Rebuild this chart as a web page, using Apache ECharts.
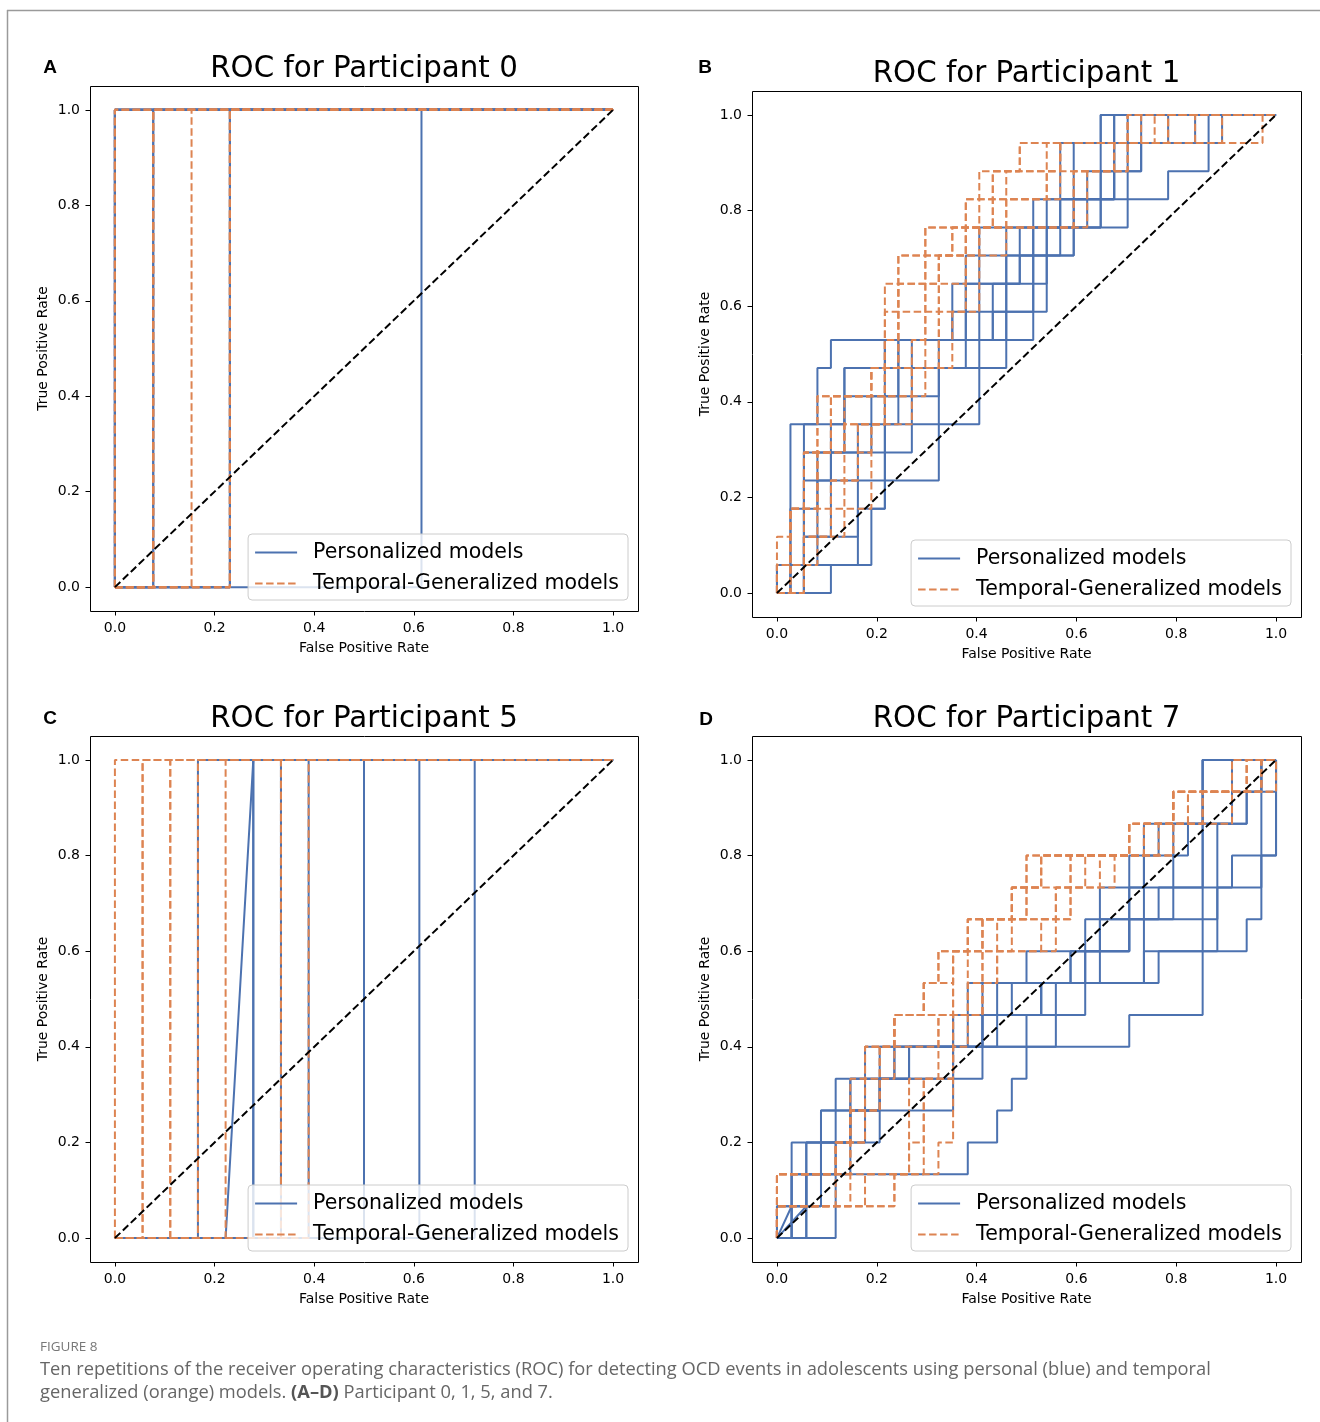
<!DOCTYPE html>
<html><head><meta charset="utf-8">
<script src="https://cdn.jsdelivr.net/npm/echarts@6/dist/echarts.min.js"></script>
<style>html,body{margin:0;padding:0;background:#fff}#c{width:1320px;height:1422px}</style>
</head><body><div id="c"></div>
<script>
// ---------------- text ----------------
const panelTitles = ['ROC for Participant 0', 'ROC for Participant 1', 'ROC for Participant 5', 'ROC for Participant 7'];
const panelLetters = ['A', 'B', 'C', 'D'];
const seriesNames = ['Personalized models', 'Temporal-Generalized models'];
const tickValues = [0, 0.2, 0.4, 0.6, 0.8, 1.0];
const xAxisName = 'False Positive Rate';
const yAxisName = 'True Positive Rate';
const captionHead = 'FIGURE 8';
const captionLine1 = 'Ten repetitions of the receiver operating characteristics (ROC) for detecting OCD events in adolescents using personal (blue) and temporal';
const captionLine2a = 'generalized (orange) models. ';
const captionLine2b = '(A\u2013D)';
const captionLine2c = ' Participant 0, 1, 5, and 7.';

// ---------------- data ----------------
// Each step curve: false-positive counts at which the curve climbs
// from j to j+1 true positives (counts out of nNeg / nPos).
// Panel A (participant 0)
const A_nNeg = 13, A_nPos = 1;
const A_personal = [[0], [0], [0], [0], [0], [1], [1], [3], [3], [8]];
const A_temporal = [[0], [0], [0], [1], [1], [1], [2], [3], [3], [3]];
const A_personalPts = [];
const A_temporalPts = [];

// Panel B (participant 1)
const B_nNeg = 37, B_nPos = 17;
const B_personal = [
  [1,1,1,1,1,1,3,3,4,19,19,19,19,19,24,24,24],
  [4,7,7,8,12,12,15,15,15,15,15,15,22,26,29,32,32],
  [2,2,6,6,8,10,10,10,10,16,16,18,18,22,22,22,25],
  [2,2,2,2,2,5,5,12,12,13,14,20,20,23,25,27,27],
  [1,1,1,2,2,2,5,5,8,17,17,17,17,24,25,25,25],
  [0,2,2,2,4,4,5,5,9,14,14,14,15,21,21,21,24],
  [2,6,6,8,8,8,12,12,17,17,17,17,22,22,26,26,31],
  [1,2,2,3,3,7,7,9,9,13,13,18,21,21,23,27,29],
  [2,2,4,4,4,8,8,8,8,16,19,19,19,24,24,25,26],
  [0,3,3,3,6,6,9,9,14,14,20,20,20,20,25,25,33]
];
const B_temporal = [
  [0,1,1,3,3,3,3,7,8,8,11,11,11,16,16,18,26],
  [2,2,4,4,5,5,8,8,8,9,9,9,14,17,17,20,27],
  [1,3,5,5,6,7,8,11,12,12,12,12,13,14,20,21,28],
  [0,1,1,2,2,5,5,7,8,8,8,11,15,16,16,21,29],
  [2,2,4,7,7,7,10,10,11,11,11,14,14,22,22,25,31],
  [1,1,1,2,2,3,3,8,9,9,9,9,11,15,15,18,26],
  [2,2,3,3,3,4,4,8,12,12,15,15,15,23,23,26,33],
  [0,1,1,4,6,6,8,8,13,13,14,14,14,22,22,26,36],
  [1,2,2,3,3,5,8,10,10,11,12,12,17,17,21,25,29],
  [0,0,1,2,2,4,4,7,9,9,9,12,13,14,20,21,26]
];
const B_personalPts = [];
const B_temporalPts = [];

// Panel C (participant 5)
const C_nNeg = 18, C_nPos = 1;
const C_personal = [[3], [5], [5], [6], [6], [7], [9], [11], [13]];
const C_temporal = [[0], [1], [1], [2], [2], [3], [4], [6], [6], [7]];
const C_personalPts = [[[0,0],[4,0],[5,1],[18,1]]];
const C_temporalPts = [];

// Panel D (participant 7)
const D_nNeg = 34, D_nPos = 15;
const D_personal = [
  [4,4,13,15,16,17,24,29,29,29,29,29,29,29,29],
  [1,2,3,5,7,12,14,18,26,32,33,33,34,34,34],
  [0,1,1,3,5,7,14,14,20,22,22,25,28,32,33],
  [1,2,4,5,7,8,14,18,22,24,24,25,25,29,29],
  [2,3,4,7,12,14,17,19,25,30,30,31,34,34,34],
  [0,1,2,4,5,8,12,16,21,21,26,33,33,33,34],
  [1,1,2,3,4,6,12,13,17,22,30,30,30,32,33],
  [2,2,3,5,7,9,13,18,21,24,24,24,26,31,33]
];
const D_temporal = [
  [0,0,4,5,6,6,8,10,11,13,16,17,24,27,31],
  [0,4,4,5,5,6,8,12,12,14,16,20,25,27,32],
  [0,0,5,5,7,7,11,13,13,15,17,18,26,28,33],
  [0,6,9,9,9,12,12,13,14,14,19,21,25,29,33],
  [0,0,4,6,6,6,8,10,12,13,16,18,24,27,31],
  [0,8,10,10,10,11,11,14,15,18,19,22,27,27,32],
  [0,0,5,5,7,7,8,12,12,13,16,17,24,28,34],
  [0,5,11,12,12,12,13,14,15,19,20,23,27,31,33],
  [0,0,4,6,6,8,8,10,11,14,17,18,24,29,32],
  [0,8,9,10,10,12,12,14,14,16,20,20,25,27,34]
];
const D_personalPts = [
  [[0,0],[1,1],[2,1],[2,2],[5,2],[5,4],[7,4],[7,5],[12,5],[12,6],[19,6],[19,7],[21,7],[21,8],[25,8],[25,11],[29,11],[29,15],[34,15]],
  [[0,0],[2,1],[3,1],[3,3],[6,3],[6,5],[9,5],[9,6],[15,6],[15,8],[20,8],[20,9],[24,9],[24,10],[27,10],[27,13],[31,13],[31,15],[34,15]]
];
const D_temporalPts = [];

const panels = [
  {nNeg: A_nNeg, nPos: A_nPos, personal: A_personal, temporal: A_temporal, personalPts: A_personalPts, temporalPts: A_temporalPts},
  {nNeg: B_nNeg, nPos: B_nPos, personal: B_personal, temporal: B_temporal, personalPts: B_personalPts, temporalPts: B_temporalPts},
  {nNeg: C_nNeg, nPos: C_nPos, personal: C_personal, temporal: C_temporal, personalPts: C_personalPts, temporalPts: C_temporalPts},
  {nNeg: D_nNeg, nPos: D_nPos, personal: D_personal, temporal: D_temporal, personalPts: D_personalPts, temporalPts: D_temporalPts}
];

// ---------------- layout / style ----------------
const W = 1320, H = 1422;
const boxes = [
  {l: 90, t: 86, w: 548, h: 525},
  {l: 752, t: 91, w: 549, h: 526},
  {l: 90, t: 736, w: 548, h: 526},
  {l: 752, t: 736, w: 549, h: 526}
];
const letterPos = [[50, 68], [705, 68], [50, 719], [706, 720]];
const BLUE = '#4C72B0', ORANGE = '#DD8452';
const FONT = 'DejaVu Sans';
const DASH = [7.5, 3.5];

function stepCurve(xs, nNeg, nPos) {
  const pts = [[0, 0]];
  xs.forEach((x, k) => {
    pts.push([x / nNeg, k / nPos]);
    pts.push([x / nNeg, (k + 1) / nPos]);
  });
  pts.push([1, 1]);
  return pts;
}
function scalePts(pts, nNeg, nPos) {
  return pts.map(p => [p[0] / nNeg, p[1] / nPos]);
}

const grid = [], xAxis = [], yAxis = [], series = [], legend = [], graphic = [];

const axisCommon = (p, name, gap) => ({
  type: 'value', gridIndex: p, min: -0.05, max: 1.05,
  axisLine: {show: false, onZero: false}, splitLine: {show: false},
  axisTick: {show: true, length: 4.5, customValues: tickValues, lineStyle: {color: '#000', width: 1}},
  axisLabel: {fontFamily: FONT, fontSize: 14, color: '#000', margin: 10, customValues: tickValues,
    formatter: v => Number(v).toFixed(1)},
  name, nameLocation: 'middle', nameGap: gap,
  nameTextStyle: {fontFamily: FONT, fontSize: 14, color: '#000'}
});

boxes.forEach((b, p) => {
  grid.push({left: b.l, top: b.t, width: b.w, height: b.h, containLabel: false, show: false});
  xAxis.push(axisCommon(p, xAxisName, 30));
  yAxis.push(axisCommon(p, yAxisName, 40));

  const pd = panels[p];
  const mk = (name, data, color, type) => ({
    type: 'line', name, xAxisIndex: p, yAxisIndex: p, data,
    symbol: 'none', showSymbol: false, clip: false, silent: true, animation: false,
    lineStyle: {color, width: 2, type}, itemStyle: {color}, z: 2
  });
  pd.personal.forEach(xs => series.push(mk(seriesNames[0], stepCurve(xs, pd.nNeg, pd.nPos), BLUE, 'solid')));
  pd.personalPts.forEach(pts => series.push(mk(seriesNames[0], scalePts(pts, pd.nNeg, pd.nPos), BLUE, 'solid')));
  pd.temporal.forEach(xs => series.push(mk(seriesNames[1], stepCurve(xs, pd.nNeg, pd.nPos), ORANGE, DASH)));
  pd.temporalPts.forEach(pts => series.push(mk(seriesNames[1], scalePts(pts, pd.nNeg, pd.nPos), ORANGE, DASH)));
  series.push({
    type: 'line', xAxisIndex: p, yAxisIndex: p, data: [[0, 0], [1, 1]],
    symbol: 'none', clip: false, silent: true, animation: false,
    lineStyle: {color: '#000', width: 2, type: DASH}, z: 3
  });

  legend.push({
    orient: 'vertical', align: 'left', selectedMode: false,
    right: W - (b.l + b.w - 10), bottom: H - (b.t + b.h - 11),
    data: seriesNames, itemWidth: 42, itemHeight: 20, itemGap: 10,
    padding: [8, 9, 6, 6],
    backgroundColor: 'rgba(255,255,255,0.8)', borderColor: '#cccccc', borderWidth: 1, borderRadius: 4,
    itemStyle: {opacity: 0},
    textStyle: {fontFamily: FONT, fontSize: 20.5, color: '#000', padding: [0, 0, 0, 11]},
    z: 10
  });

  graphic.push({type: 'rect', shape: {x: b.l + 0.5, y: b.t + 0.5, width: b.w, height: b.h},
    style: {fill: 'none', stroke: '#000', lineWidth: 1}, z: 5, silent: true});
  graphic.push({type: 'text', x: b.l + b.w / 2, y: b.t - 17,
    style: {text: panelTitles[p], fontFamily: FONT, fontSize: 29.3, fill: '#000', align: 'center', verticalAlign: 'middle'}});
  graphic.push({type: 'text', x: letterPos[p][0], y: letterPos[p][1],
    style: {text: panelLetters[p], fontFamily: 'Liberation Sans', fontWeight: 'bold', fontSize: 19, fill: '#000', align: 'center', verticalAlign: 'middle'}});
});

// frame and caption
graphic.push({type: 'line', shape: {x1: 7, y1: 10.5, x2: W, y2: 10.5}, style: {stroke: '#9a9a9a', lineWidth: 1.5}});
graphic.push({type: 'line', shape: {x1: 7.5, y1: 10, x2: 7.5, y2: H}, style: {stroke: '#9a9a9a', lineWidth: 1.5}});
graphic.push({type: 'text', x: 40, y: 1347, style: {text: captionHead, fontFamily: 'Open Sans', fontSize: 13.5, fill: '#777', verticalAlign: 'middle'}});
graphic.push({type: 'text', x: 40, y: 1370, style: {text: captionLine1, fontFamily: 'Open Sans', fontSize: 18.3, fill: '#666', verticalAlign: 'middle'}});
graphic.push({type: 'text', x: 40, y: 1393, style: {
  text: captionLine2a + '{b|' + captionLine2b + '}' + captionLine2c,
  fontFamily: 'Open Sans', fontSize: 18.3, fill: '#666', verticalAlign: 'middle',
  rich: {b: {fontFamily: 'Open Sans', fontSize: 18.3, fontWeight: 'bold', fill: '#555'}}}});

const chart = echarts.init(document.getElementById('c'), null, {renderer: 'canvas', width: W, height: H});
chart.setOption({animation: false, backgroundColor: '#fff', grid, xAxis, yAxis, series, legend, graphic});
</script></body></html>
